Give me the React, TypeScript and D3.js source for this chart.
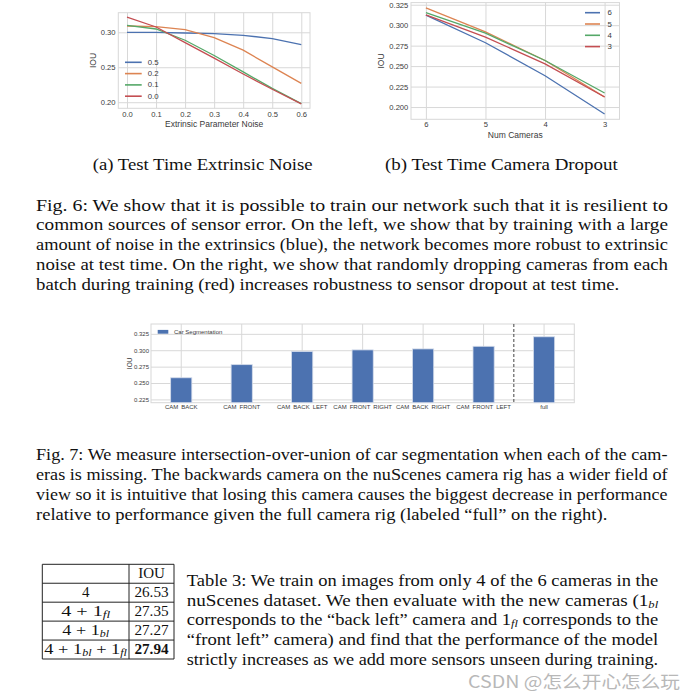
import {
  axisBottom,
  axisLeft,
  extent,
  line,
  scaleBand,
  scaleLinear,
  select,
} from "d3";
import { useEffect, useRef } from "react";

// Fig 6a - IOU vs extrinsic noise at test time, one series per training noise
const noiseLevels = [0, 0.1, 0.2, 0.3, 0.4, 0.5, 0.6];
const trainNoiseNames = ["0.5", "0.2", "0.1", "0.0"];
const iouNoise05 = [0.3, 0.3, 0.299, 0.298, 0.2957, 0.291, 0.2825];
const iouNoise02 = [0.309, 0.308, 0.3038, 0.2924, 0.2744, 0.2505, 0.227];
const iouNoise01 = [0.31, 0.3047, 0.2886, 0.2668, 0.2434, 0.2197, 0.198];
const iouNoise00 = [0.3218, 0.3076, 0.2853, 0.263, 0.2403, 0.2185, 0.1975];
const noiseTicksY = [0.2, 0.25, 0.3];

// Fig 6b - IOU vs number of cameras at test time
const numCameras = [6, 5, 4, 3];
const dropoutNames = ["6", "5", "4", "3"];
const iouDrop6 = [0.3122, 0.2785, 0.2382, 0.1915];
const iouDrop5 = [0.3211, 0.2919, 0.2569, 0.2122];
const iouDrop4 = [0.3154, 0.2902, 0.2569, 0.2171];
const iouDrop3 = [0.3126, 0.2854, 0.2528, 0.2122];
const dropTicksY = [0.2, 0.225, 0.25, 0.275, 0.3, 0.325];

// Fig 7 - car segmentation IOU with one camera missing
const missingCams = [
  "CAM_BACK",
  "CAM_FRONT",
  "CAM_BACK_LEFT",
  "CAM_FRONT_RIGHT",
  "CAM_BACK_RIGHT",
  "CAM_FRONT_LEFT",
  "full",
];
const carSegIou = [0.258, 0.278, 0.298, 0.3005, 0.302, 0.306, 0.3205];
const barTicksY = [0.225, 0.25, 0.275, 0.3, 0.325];

// Table 3
const tableSetups = ["4", "4 + 1_{fl}", "4 + 1_{bl}", "4 + 1_{bl} + 1_{fl}"];
const tableIou = ["26.53", "27.35", "27.27", "27.94"];

const subCaptions = [
  "(a) Test Time Extrinsic Noise",
  "(b) Test Time Camera Dropout",
];
const fig6Lines = [
  "Fig. 6: We show that it is possible to train our network such that it is resilient to",
  "common sources of sensor error. On the left, we show that by training with a large",
  "amount of noise in the extrinsics (blue), the network becomes more robust to extrinsic",
  "noise at test time. On the right, we show that randomly dropping cameras from each",
  "batch during training (red) increases robustness to sensor dropout at test time.",
];
const fig7Lines = [
  "Fig. 7: We measure intersection-over-union of car segmentation when each of the cam-",
  "eras is missing. The backwards camera on the nuScenes camera rig has a wider field of",
  "view so it is intuitive that losing this camera causes the biggest decrease in performance",
  "relative to performance given the full camera rig (labeled \u201cfull\u201d on the right).",
];
const table3Lines = [
  "Table 3: We train on images from only 4 of the 6 cameras in the",
  "nuScenes dataset. We then evaluate with the new cameras (1_{bl}",
  "corresponds to the \u201cback left\u201d camera and 1_{fl} corresponds to the",
  "\u201cfront left\u201d camera) and find that the performance of the model",
  "strictly increases as we add more sensors unseen during training.",
];

const SANS = "'Liberation Sans', Arial, sans-serif";
const SERIF = "'Liberation Serif', 'Times New Roman', serif";
const GRID = "#d8d8d8";
const INK = "#3a3a3a";
const PALETTE = ["#4C72B0", "#DD8452", "#55A868", "#C44E52"];

type Box = { l: number; r: number; t: number; b: number };

function frame(svg: any, x: any, y: any, box: Box, o: any) {
  const g = svg.append("g");
  g.append("g")
    .attr("transform", `translate(${box.l},0)`)
    .call(
      axisLeft(y)
        .tickValues(o.yTicks)
        .tickFormat(o.yFmt)
        .tickSize(-(box.r - box.l))
        .tickPadding(o.padY)
    );
  g.append("g")
    .attr("transform", `translate(0,${box.b})`)
    .call(
      axisBottom(x)
        .tickValues(o.xTicks)
        .tickFormat(o.xFmt)
        .tickSize(-(box.b - box.t))
        .tickPadding(o.padX)
    );
  g.selectAll(".domain").remove();
  g.selectAll(".tick line").attr("stroke", GRID).attr("stroke-width", 1);
  g.selectAll(".tick text")
    .attr("fill", INK)
    .attr("font-size", o.fs)
    .attr("font-family", SANS);
  g.append("rect")
    .attr("x", box.l)
    .attr("y", box.t)
    .attr("width", box.r - box.l)
    .attr("height", box.b - box.t)
    .attr("fill", "none")
    .attr("stroke", GRID);
  return g;
}

function axisLabel(svg: any, text: string, x: number, y: number, fs: number, rotate = false) {
  svg
    .append("text")
    .attr("transform", `translate(${x},${y})${rotate ? " rotate(-90)" : ""}`)
    .attr("text-anchor", "middle")
    .attr("dominant-baseline", "central")
    .attr("font-family", SANS)
    .attr("font-size", fs)
    .attr("fill", INK)
    .text(text);
}

// text line with optional _{sub} parts, stretched to the given width
function textLine(svg: any, text: string, x: number, y: number, width: number | null, fs: number, anchor = "start", bold = false) {
  const t = svg
    .append("text")
    .attr("x", x)
    .attr("y", y)
    .attr("text-anchor", anchor)
    .attr("font-family", SERIF)
    .attr("font-size", fs)
    .attr("font-weight", bold ? "bold" : "normal")
    .attr("fill", "#111")
    .style("white-space", "pre");
  if (width) t.attr("textLength", width).attr("lengthAdjust", "spacingAndGlyphs");
  const shift = fs * 0.13;
  let down = false;
  text.split(/(_\{[^}]*\})/).forEach((p) => {
    if (!p) return;
    if (p.startsWith("_{")) {
      t.append("tspan")
        .attr("dy", shift)
        .attr("font-size", fs * 0.66)
        .attr("font-style", "italic")
        .text(p.slice(2, -1));
      down = true;
    } else {
      t.append("tspan").attr("dy", down ? -shift : 0).text(p);
      down = false;
    }
  });
}

function drawNoise(svg: any) {
  const box = { l: 118.3, r: 310, t: 12.7, b: 108.3 };
  const series = [iouNoise05, iouNoise02, iouNoise01, iouNoise00];
  const [xlo, xhi] = extent(noiseLevels) as [number, number];
  const [ylo, yhi] = extent(series.flat()) as [number, number];
  const xp = (xhi - xlo) * 0.05;
  const yp = (yhi - ylo) * 0.05;
  const x = scaleLinear().domain([xlo - xp, xhi + xp]).range([box.l, box.r]);
  const y = scaleLinear().domain([ylo - yp, yhi + yp]).range([box.b, box.t]);

  frame(svg, x, y, box, {
    xTicks: noiseLevels,
    yTicks: noiseTicksY,
    xFmt: (d: number) => d.toFixed(1),
    yFmt: (d: number) => d.toFixed(2),
    fs: 7.6,
    padX: 3,
    padY: 2.8,
  });

  const path = line<number>()
    .x((_, i) => x(noiseLevels[i]))
    .y((d) => y(d));
  series.forEach((s, i) => {
    svg.append("path")
      .attr("d", path(s))
      .attr("fill", "none")
      .attr("stroke", PALETTE[i])
      .attr("stroke-width", 1.3);
  });

  trainNoiseNames.forEach((name, i) => {
    const ly = 62.3 + i * 11.3;
    svg.append("line")
      .attr("x1", 125).attr("x2", 141.7).attr("y1", ly).attr("y2", ly)
      .attr("stroke", PALETTE[i]).attr("stroke-width", 1.6);
    svg.append("text")
      .attr("x", 147.7).attr("y", ly)
      .attr("dominant-baseline", "central")
      .attr("font-family", SANS).attr("font-size", 7.8).attr("fill", INK)
      .text(name);
  });

  axisLabel(svg, "IOU", 92.7, (box.t + box.b) / 2, 8.5, true);
  axisLabel(svg, "Extrinsic Parameter Noise", (box.l + box.r) / 2, 124.3, 8.5);
}

function drawDropout(svg: any) {
  const box = { l: 411, r: 619.5, t: 2.6, b: 119.3 };
  const series = [iouDrop6, iouDrop5, iouDrop4, iouDrop3];
  const [ylo, yhi] = extent(series.flat()) as [number, number];
  const yp = (yhi - ylo) * 0.05;
  const x = scaleLinear().domain([6.25, 2.75]).range([box.l, box.r]);
  const y = scaleLinear().domain([ylo - yp, yhi + yp]).range([box.b, box.t]);

  frame(svg, x, y, box, {
    xTicks: numCameras,
    yTicks: dropTicksY,
    xFmt: (d: number) => String(d),
    yFmt: (d: number) => d.toFixed(3),
    fs: 7.6,
    padX: 2.5,
    padY: 2.7,
  });

  const path = line<number>()
    .x((_, i) => x(numCameras[i]))
    .y((d) => y(d));
  series.forEach((s, i) => {
    svg.append("path")
      .attr("d", path(s))
      .attr("fill", "none")
      .attr("stroke", PALETTE[i])
      .attr("stroke-width", 1.3);
  });

  dropoutNames.forEach((name, i) => {
    const ly = 12.7 + i * 11.3;
    svg.append("line")
      .attr("x1", 585).attr("x2", 600).attr("y1", ly).attr("y2", ly)
      .attr("stroke", PALETTE[i]).attr("stroke-width", 1.6);
    svg.append("text")
      .attr("x", 607.5).attr("y", ly)
      .attr("dominant-baseline", "central")
      .attr("font-family", SANS).attr("font-size", 7.8).attr("fill", INK)
      .text(name);
  });

  axisLabel(svg, "IOU", 380.7, (box.t + box.b) / 2, 8.5, true);
  axisLabel(svg, "Num Cameras", (box.l + box.r) / 2, 135, 8.5);
}

function drawBars(svg: any) {
  const box = { l: 151, r: 574.3, t: 324, b: 402.7 };
  const x = scaleBand<string>()
    .domain(missingCams)
    .range([box.l, box.r])
    .paddingInner(0.65)
    .paddingOuter(0.325);
  const y = scaleLinear().domain([0.22, 0.34]).range([box.b, box.t]);

  frame(svg, x, y, box, {
    xTicks: missingCams,
    yTicks: barTicksY,
    xFmt: (d: string) => d.replace(/_/g, "\u2002"),
    yFmt: (d: number) => d.toFixed(3),
    fs: 6,
    padX: 2.2,
    padY: 2,
  });

  svg.append("g")
    .selectAll("rect")
    .data(carSegIou)
    .join("rect")
    .attr("x", (_: number, i: number) => x(missingCams[i]))
    .attr("y", (d: number) => y(d))
    .attr("width", x.bandwidth())
    .attr("height", (d: number) => box.b - y(d))
    .attr("fill", PALETTE[0])
    .attr("stroke", "#d3dbea")
    .attr("stroke-width", 0.8);

  const n = missingCams.length;
  const sepX =
    ((x(missingCams[n - 2]) as number) + (x(missingCams[n - 1]) as number)) / 2 +
    x.bandwidth() / 2;
  svg.append("line")
    .attr("x1", sepX).attr("x2", sepX)
    .attr("y1", box.t).attr("y2", box.b)
    .attr("stroke", "#444")
    .attr("stroke-width", 1)
    .attr("stroke-dasharray", "3,2");

  svg.append("rect")
    .attr("x", 157.7).attr("y", 329.9)
    .attr("width", 10.6).attr("height", 3.8)
    .attr("fill", PALETTE[0]);
  svg.append("text")
    .attr("x", 174).attr("y", 331.8)
    .attr("dominant-baseline", "central")
    .attr("font-family", SANS).attr("font-size", 6).attr("fill", INK)
    .text("Car Segmentation");

  axisLabel(svg, "IOU", 129, (box.t + box.b) / 2, 6.5, true);
}

function drawTable(svg: any) {
  const cols = [42.3, 129, 174];
  const rowY = scaleLinear().domain([0, 5]).range([564.3, 659]);
  const g = svg.append("g");
  for (let i = 0; i <= 5; i++) {
    g.append("line")
      .attr("x1", cols[0]).attr("x2", cols[2])
      .attr("y1", rowY(i)).attr("y2", rowY(i))
      .attr("stroke", "#222").attr("stroke-width", 1);
  }
  cols.forEach((c) => {
    g.append("line")
      .attr("x1", c).attr("x2", c)
      .attr("y1", rowY(0)).attr("y2", rowY(5))
      .attr("stroke", "#222").attr("stroke-width", 1);
  });
  const leftMid = (cols[0] + cols[1]) / 2;
  const rightMid = (cols[1] + cols[2]) / 2;
  const widths = [null, 49, 46.7, 82.7];
  textLine(g, "IOU", rightMid, rowY(0) + 13.6, null, 15, "middle");
  tableSetups.forEach((s, i) => {
    const by = rowY(i + 1) + 13.6;
    textLine(g, s, leftMid, by, widths[i], 15, "middle");
    textLine(g, tableIou[i], rightMid, by, null, 15.2, "middle", i === tableIou.length - 1);
  });
}

function drawText(svg: any) {
  textLine(svg, subCaptions[0], 92.7, 170, 220, 17);
  textLine(svg, subCaptions[1], 385, 170, 232.7, 17);

  fig6Lines.forEach((t, i) => {
    const last = i === fig6Lines.length - 1;
    textLine(svg, t, 36, 210.7 + i * 19.7, (last ? 619.3 : 668) - 36, 17);
  });
  fig7Lines.forEach((t, i) => {
    const last = i === fig7Lines.length - 1;
    textLine(svg, t, 36, 459.6 + i * 20.2, (last ? 607.3 : 667.5) - 36, 17);
  });
  table3Lines.forEach((t, i) => {
    textLine(svg, t, 186.7, 585.8 + i * 19.7, 658.2 - 186.7, 17);
  });

  svg.append("text")
    .attr("x", 468).attr("y", 688)
    .attr("font-family", "'Noto Sans CJK SC', sans-serif")
    .attr("font-size", 17)
    .attr("fill", "#b8b8b8")
    .attr("textLength", 212)
    .attr("lengthAdjust", "spacingAndGlyphs")
    .text("CSDN @怎么开心怎么玩");
}

function App() {
  const svgRef = useRef<SVGSVGElement>(null);

  useEffect(() => {
    const svg = select(svgRef.current);
    svg.selectAll("*").remove();
    drawNoise(svg);
    drawDropout(svg);
    drawBars(svg);
    drawText(svg);
    drawTable(svg);
  }, []);

  return (
    <svg
      ref={svgRef}
      width={695}
      height={698}
      style={{ position: "absolute", left: 0, top: 0, background: "#fff" }}
    ></svg>
  );
}

export default App;
